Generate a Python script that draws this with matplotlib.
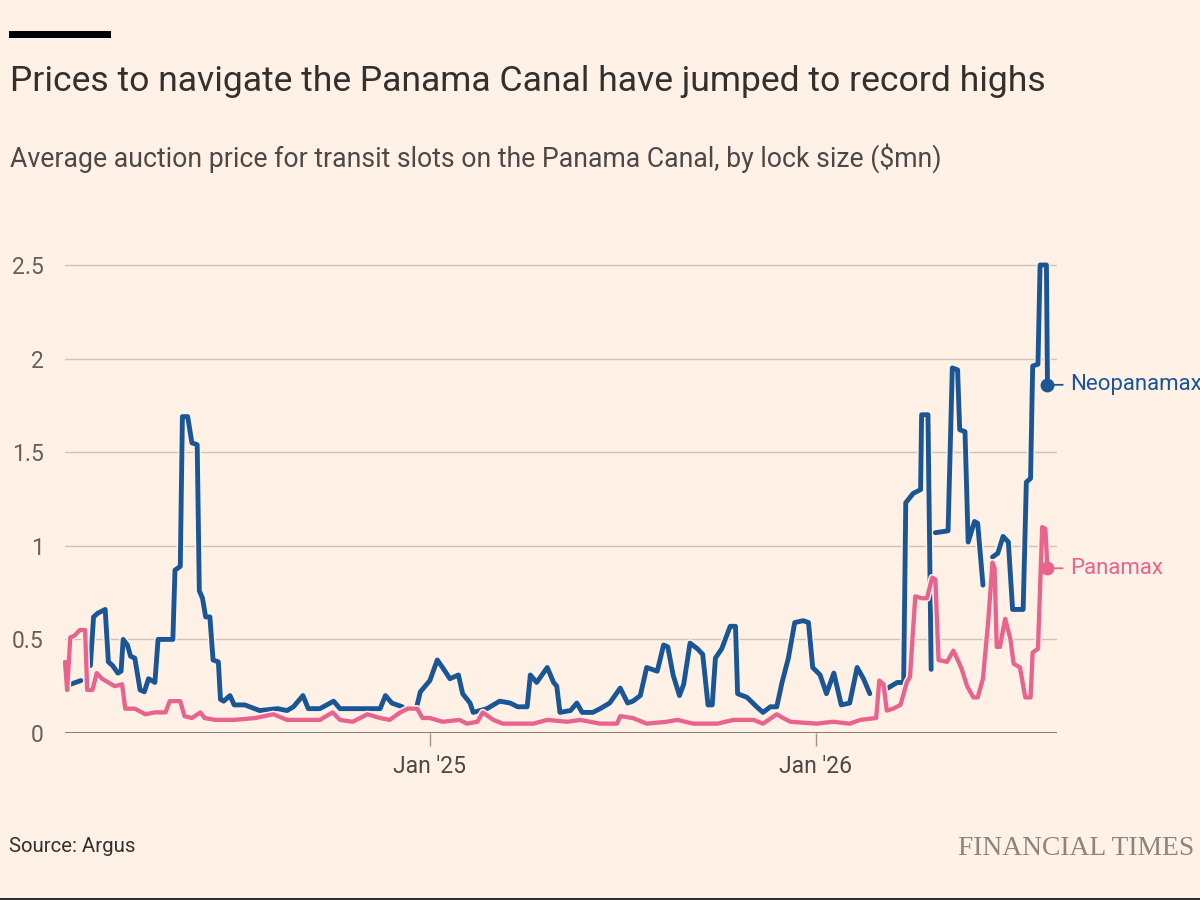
import matplotlib
matplotlib.use('Agg')
import matplotlib.pyplot as plt
import matplotlib.patheffects as pe
from matplotlib.patches import Rectangle
import numpy as np
import pandas as pd

nan = np.nan

# ---------------- data ----------------
neo_dates = [
    '2024-01-27', '2024-02-06', '2024-02-10',
    '2024-02-15', '2024-02-18', '2024-02-22', '2024-02-29', '2024-03-03', '2024-03-07',
    '2024-03-12', '2024-03-15', '2024-03-17', '2024-03-21', '2024-03-24', '2024-03-28',
    '2024-04-02', '2024-04-06', '2024-04-10', '2024-04-16', '2024-04-19', '2024-05-03',
    '2024-05-05', '2024-05-10', '2024-05-12', '2024-05-17', '2024-05-21', '2024-05-26',
    '2024-05-28', '2024-05-31', '2024-06-03', '2024-06-07', '2024-06-10', '2024-06-15',
    '2024-06-17', '2024-06-20', '2024-06-26', '2024-06-30', '2024-07-10', '2024-07-24',
    '2024-08-10', '2024-08-19', '2024-08-25', '2024-09-03', '2024-09-08', '2024-09-19',
    '2024-10-02', '2024-10-08', '2024-11-03', '2024-11-15', '2024-11-20', '2024-11-26',
    '2024-12-06', '2024-12-13',
    '2024-12-20', '2024-12-23', '2025-01-01', '2025-01-08', '2025-01-13', '2025-01-20',
    '2025-01-28', '2025-02-01', '2025-02-08', '2025-02-11', '2025-02-24', '2025-03-08',
    '2025-03-18', '2025-03-25', '2025-04-03', '2025-04-06', '2025-04-12', '2025-04-22',
    '2025-04-28', '2025-05-01', '2025-05-04', '2025-05-14', '2025-05-20', '2025-05-25',
    '2025-06-04', '2025-06-11', '2025-06-20', '2025-06-30', '2025-07-07', '2025-07-12',
    '2025-07-19', '2025-07-25', '2025-08-04', '2025-08-10', '2025-08-14', '2025-08-19',
    '2025-08-25', '2025-08-29', '2025-09-04', '2025-09-11', '2025-09-16', '2025-09-21',
    '2025-09-25', '2025-09-28', '2025-10-04', '2025-10-12', '2025-10-17', '2025-10-19',
    '2025-10-28', '2025-11-06', '2025-11-12', '2025-11-19', '2025-11-25', '2025-11-30',
    '2025-12-06', '2025-12-12', '2025-12-20', '2025-12-25', '2025-12-29', '2026-01-05',
    '2026-01-11', '2026-01-18', '2026-01-25', '2026-02-02', '2026-02-09', '2026-02-15',
    '2026-02-21', '2026-03-01',
    '2026-03-10', '2026-03-19', '2026-03-25', '2026-03-27', '2026-04-03', '2026-04-10',
    '2026-04-11', '2026-04-17', '2026-04-20', '2026-04-22',
    '2026-04-24', '2026-05-06', '2026-05-10', '2026-05-15', '2026-05-17', '2026-05-22',
    '2026-05-25', '2026-05-31', '2026-06-03', '2026-06-08', '2026-06-12',
    '2026-06-17', '2026-06-22', '2026-06-27', '2026-07-02', '2026-07-06', '2026-07-16',
    '2026-07-19', '2026-07-23', '2026-07-25', '2026-07-30', '2026-08-01', '2026-08-07',
    '2026-08-08',
]
neo_values = [
    0.26, 0.28, nan,
    0.36, 0.62, 0.64, 0.66, 0.38, 0.36,
    0.32, 0.33, 0.50, 0.47, 0.41, 0.40,
    0.23, 0.22, 0.29, 0.27, 0.50, 0.50,
    0.87, 0.89, 1.69, 1.69, 1.55, 1.54,
    0.76, 0.72, 0.62, 0.62, 0.39, 0.38,
    0.18, 0.17, 0.20, 0.15, 0.15, 0.12,
    0.13, 0.12, 0.14, 0.20, 0.13, 0.13,
    0.17, 0.13, 0.13, 0.13, 0.20, 0.16,
    0.14, nan,
    0.15, 0.22, 0.28, 0.39, 0.35, 0.29,
    0.31, 0.21, 0.16, 0.11, 0.13, 0.17,
    0.16, 0.14, 0.14, 0.31, 0.27, 0.35,
    0.27, 0.25, 0.11, 0.12, 0.16, 0.11,
    0.11, 0.13, 0.16, 0.24, 0.16, 0.17,
    0.20, 0.35, 0.33, 0.47, 0.46, 0.31,
    0.20, 0.26, 0.48, 0.45, 0.42, 0.15,
    0.15, 0.40, 0.45, 0.57, 0.57, 0.21,
    0.19, 0.14, 0.11, 0.14, 0.14, 0.27,
    0.40, 0.59, 0.60, 0.59, 0.35, 0.31,
    0.21, 0.32, 0.15, 0.16, 0.35, 0.29,
    0.21, nan,
    0.24, 0.27, 0.27, 1.23, 1.28, 1.30,
    1.70, 1.70, 0.34, nan,
    1.07, 1.08, 1.95, 1.94, 1.62, 1.61,
    1.02, 1.13, 1.12, 0.79, nan,
    0.94, 0.96, 1.05, 1.02, 0.66, 0.66,
    1.34, 1.36, 1.96, 1.97, 2.50, 2.50,
    1.86,
]

pmx_dates = [
    '2024-01-22', '2024-01-24', '2024-01-27', '2024-01-31', '2024-02-05', '2024-02-10',
    '2024-02-12', '2024-02-17', '2024-02-21', '2024-02-26', '2024-03-03', '2024-03-09',
    '2024-03-16', '2024-03-19', '2024-03-28', '2024-04-07', '2024-04-16', '2024-04-26',
    '2024-04-30', '2024-05-10', '2024-05-14', '2024-05-21', '2024-05-29', '2024-06-02',
    '2024-06-12', '2024-06-30', '2024-07-20', '2024-08-06', '2024-08-19', '2024-09-19',
    '2024-10-01', '2024-10-08', '2024-10-20', '2024-11-03', '2024-11-15', '2024-11-24',
    '2024-12-04', '2024-12-11', '2024-12-20', '2024-12-25', '2025-01-01', '2025-01-13',
    '2025-01-29', '2025-02-05', '2025-02-15', '2025-02-20', '2025-03-02', '2025-03-11',
    '2025-04-09', '2025-04-22', '2025-05-11', '2025-05-23', '2025-06-11', '2025-06-27',
    '2025-06-30', '2025-07-12', '2025-07-25', '2025-08-13', '2025-08-23', '2025-09-07',
    '2025-09-30', '2025-10-15', '2025-11-03', '2025-11-12', '2025-11-25', '2025-12-01',
    '2025-12-08', '2026-01-02', '2026-01-17', '2026-02-02', '2026-02-12', '2026-02-27',
    '2026-03-02', '2026-03-06', '2026-03-09', '2026-03-15', '2026-03-22', '2026-03-28',
    '2026-03-31', '2026-04-05', '2026-04-11', '2026-04-16', '2026-04-21', '2026-04-24',
    '2026-04-27', '2026-05-05', '2026-05-11', '2026-05-16', '2026-05-19', '2026-05-24',
    '2026-05-30', '2026-06-03', '2026-06-08', '2026-06-13', '2026-06-17', '2026-06-19',
    '2026-06-21', '2026-06-24', '2026-06-29', '2026-07-04', '2026-07-07', '2026-07-13',
    '2026-07-18', '2026-07-23', '2026-07-25', '2026-07-30', '2026-08-03', '2026-08-06',
    '2026-08-08',
]
pmx_values = [
    0.38, 0.23, 0.51, 0.52, 0.55, 0.55,
    0.23, 0.23, 0.32, 0.29, 0.27, 0.25,
    0.26, 0.13, 0.13, 0.10, 0.11, 0.11,
    0.17, 0.17, 0.09, 0.08, 0.11, 0.08,
    0.07, 0.07, 0.08, 0.10, 0.07, 0.07,
    0.11, 0.07, 0.06, 0.10, 0.08, 0.07,
    0.11, 0.13, 0.13, 0.08, 0.08, 0.06,
    0.07, 0.05, 0.06, 0.11, 0.07, 0.05,
    0.05, 0.07, 0.06, 0.07, 0.05, 0.05,
    0.09, 0.08, 0.05, 0.06, 0.07, 0.05,
    0.05, 0.07, 0.07, 0.05, 0.10, 0.08,
    0.06, 0.05, 0.06, 0.05, 0.07, 0.08,
    0.28, 0.26, 0.12, 0.13, 0.15, 0.27,
    0.30, 0.73, 0.72, 0.72, 0.83, 0.82,
    0.39, 0.38, 0.44, 0.38, 0.34, 0.25,
    0.19, 0.19, 0.29, 0.60, 0.91, 0.88,
    0.46, 0.46, 0.61, 0.50, 0.37, 0.35,
    0.19, 0.19, 0.43, 0.45, 1.10, 1.09,
    0.88,
]

series_names = ['Neopanamax', 'Panamax']
y_ticks = [0, 0.5, 1, 1.5, 2, 2.5]
y_tick_labels = ['0', '0.5', '1', '1.5', '2', '2.5']
x_tick_dates = ['2025-01-01', '2026-01-01']
x_tick_labels = ["Jan '25", "Jan '26"]

title = 'Prices to navigate the Panama Canal have jumped to record highs'
subtitle = 'Average auction price for transit slots on the Panama Canal, by lock size ($mn)'
source = 'Source: Argus'
brand = 'FINANCIAL TIMES'

# ---------------- style ----------------
BG = '#FFF1E5'
BLUE = '#1A5695'
PINK = '#E8648F'
plt.rcParams['font.family'] = ['Roboto', 'DejaVu Sans']

W, H = 1200, 900
fig = plt.figure(figsize=(W / 100, H / 100), dpi=100, facecolor=BG)

ax_left, ax_right = 65, 1057
y0_px, y25_px = 733, 265
ymax = 2.6
top_px = y0_px - (y0_px - y25_px) / 2.5 * ymax
ax = fig.add_axes([ax_left / W, 1 - y0_px / H, (ax_right - ax_left) / W, (y0_px - top_px) / H])
ax.set_facecolor(BG)

nd = pd.to_datetime(neo_dates)
pdt = pd.to_datetime(pmx_dates)
nv = np.array(neo_values, dtype=float)
pv = np.array(pmx_values, dtype=float)

halo = lambda lw: [pe.Stroke(linewidth=lw + 2.2, foreground=BG), pe.Normal()]
ax.plot(nd, nv, color=BLUE, lw=3.5, solid_joinstyle='round', solid_capstyle='round',
        path_effects=halo(3.5), clip_on=False, zorder=3)
ax.plot(pdt, pv, color=PINK, lw=3.1, solid_joinstyle='round', solid_capstyle='round',
        path_effects=halo(3.1), clip_on=False, zorder=4)

# end markers and labels
for d, v, c, name in [(nd[-1], nv[-1], BLUE, series_names[0]), (pdt[-1], pv[-1], PINK, series_names[1])]:
    ax.plot([d], [v], 'o', color=c, markersize=9, clip_on=False, zorder=5)
    ax.annotate(name, xy=(d, v), xytext=(16, 0), textcoords='offset points',
                va='center', ha='left', color=c, fontsize=16, annotation_clip=False,
                arrowprops=dict(arrowstyle='-', color=c, lw=1.3, shrinkA=3, shrinkB=0))

ax.set_xlim(pd.Timestamp('2024-01-22'), pd.Timestamp('2026-08-17'))
ax.set_ylim(0, ymax)

ax.set_yticks(y_ticks)
ax.set_yticklabels(y_tick_labels)
ax.set_xticks(pd.to_datetime(x_tick_dates))
ax.set_xticklabels(x_tick_labels)

for s in ax.spines.values():
    s.set_visible(False)
ax.grid(axis='y', color='#CDC3BA', lw=1.0, zorder=1)
ax.grid(axis='x', visible=False)
ax.axhline(0, color='#7A736E', lw=1.3, zorder=2)
ax.tick_params(axis='y', length=0, pad=15.5, labelsize=16.5, labelcolor='#66605C')
ax.tick_params(axis='x', length=9, width=1, color='#9C948E', pad=7, labelsize=16.5,
               labelcolor='#4D4845')
for lab in ax.get_yticklabels():
    lab.set_horizontalalignment('right')

# titles
t1 = fig.text(10 / W, 1 - 91 / H, title, fontsize=27, color='#33302E', va='baseline', ha='left')
t2 = fig.text(10 / W, 1 - 167 / H, subtitle, fontsize=18, color='#4D4845', va='baseline', ha='left')
t3 = fig.text(9 / W, 1 - 852 / H, source, fontsize=13, color='#33302E', va='baseline', ha='left')
t4 = fig.text(958 / W, 1 - 855 / H, brand, fontsize=19, color='#8C847F',
              va='baseline', ha='left', family=['Liberation Serif', 'DejaVu Serif'])

fig.canvas.draw()
r = fig.canvas.get_renderer()
for t, wpx in [(t1, 1035), (t2, 930), (t3, 127), (t4, 236)]:
    bb = t.get_window_extent(r)
    t.set_fontsize(t.get_fontsize() * wpx / bb.width)

# decorative bars
fig.add_artist(Rectangle((9 / W, 1 - 37.5 / H), 102 / W, 6.5 / H, transform=fig.transFigure,
                         color='#000000', lw=0))
fig.add_artist(Rectangle((0, 0), 1, 2.5 / H, transform=fig.transFigure, color='#2B2B2B', lw=0))

fig.savefig('out.png', dpi=100, facecolor=BG)
